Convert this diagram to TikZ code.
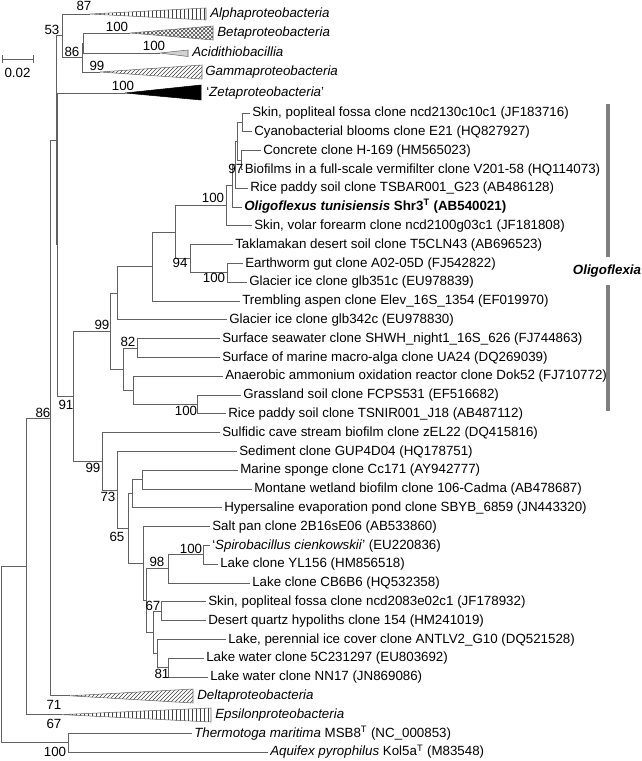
\documentclass[tikz,border=0pt]{standalone}
\usepackage{fontspec}
\setmainfont{Liberation Sans}
\usetikzlibrary{patterns}
\begin{document}
\begin{tikzpicture}[x=0.75pt,y=-0.75pt,
  br/.style={draw=black!62, line width=0.65pt},
  lf/.style={anchor=west, inner sep=1.5pt, font=\fontsize{10}{12}\selectfont, text height=7.3pt, text depth=1.7pt},
  bs/.style={inner sep=0pt, font=\fontsize{10}{12}\selectfont, text height=7.2pt, text depth=0pt},
  tri/.style={draw=black!60, line width=0.4pt, pattern color=black!75},
  obar/.style={draw=black!50, line width=3pt}]
\useasboundingbox (0,0) rectangle (642,761);

% ---------- internal nodes ----------
\coordinate (nR) at (1.5,654.6);
\coordinate (nD) at (26,566.3);
\coordinate (nTA) at (68,742.8);
\coordinate (nC) at (50,418.0);
\coordinate (nA) at (56,140.2);
\coordinate (n87) at (62,35.75);
\coordinate (n86) at (82,57.5);
\coordinate (nBA) at (83,43);
\coordinate (nB) at (57.5,244.6);
\coordinate (nU) at (73,396.3);
\coordinate (nE) at (110,331.2);
\coordinate (nF) at (117,293.2);
\coordinate (nG) at (152,266.6);
\coordinate (nH) at (175,232.3);
\coordinate (nP) at (226,205.8);
\coordinate (nO) at (232,185.9);
\coordinate (nN) at (235,164.7);
\coordinate (nM) at (237,141.2);
\coordinate (nK) at (242,122.4);
\coordinate (nL) at (241,160.0);
\coordinate (nI) at (190,258.7);
\coordinate (nJ) at (227,272.8);
\coordinate (nQ) at (123,369.1);
\coordinate (nR82) at (137,348.0);
\coordinate (nS) at (133,390.3);
\coordinate (nT) at (197,404.4);
\coordinate (nV) at (102,461.3);
\coordinate (nW) at (117,490.0);
\coordinate (nX) at (128,528.7);
\coordinate (nY) at (132,493.7);
\coordinate (nZ) at (142,479.6);
\coordinate (nAA) at (143,563.7);
\coordinate (nII) at (146,600.7);
\coordinate (nCC) at (168,568.9);
\coordinate (nDD) at (203,554.8);
\coordinate (nHH) at (153,632.4);
\coordinate (nEE) at (161,611.2);
\coordinate (nGG) at (157,653.5);
\coordinate (nFF) at (168,667.6);

% ---------- leaves ----------
\node[lf] (l1) at (250,113.0) {Skin, popliteal fossa clone ncd2130c10c1 (JF183716)};
\node[lf] (l2) at (252,131.8) {Cyanobacterial blooms clone E21 (HQ827927)};
\node[lf] (l3) at (261,150.6) {Concrete clone H-169 (HM565023)};
\node[lf] (l4) at (242.5,169.4) {Biofilms in a full-scale vermifilter clone V201-58 (HQ114073)};
\node[lf] (l5) at (248,188.2) {Rice paddy soil clone TSBAR001\_G23 (AB486128)};
\node[lf] (l6) at (242,207.0) {\textbf{\textit{Oligoflexus tunisiensis} Shr3\textsuperscript{T} (AB540021)}};
\node[lf] (l7) at (252,225.8) {Skin, volar forearm clone ncd2100g03c1 (JF181808)};
\node[lf] (l8) at (233,244.6) {Taklamakan desert soil clone T5CLN43 (AB696523)};
\node[lf] (l9) at (243,263.4) {Earthworm gut clone A02-05D (FJ542822)};
\node[lf] (l10) at (247,282.2) {Glacier ice clone glb351c (EU978839)};
\node[lf] (l11) at (240,301.0) {Trembling aspen clone Elev\_16S\_1354 (EF019970)};
\node[lf] (l12) at (227,319.8) {Glacier ice clone glb342c (EU978830)};
\node[lf] (l13) at (220,338.6) {Surface seawater clone SHWH\_night1\_16S\_626 (FJ744863)};
\node[lf] (l14) at (220,357.4) {Surface of marine macro-alga clone UA24 (DQ269039)};
\node[lf] (l15) at (223,376.2) {Anaerobic ammonium oxidation reactor clone Dok52 (FJ710772)};
\node[lf] (l16) at (241,395.0) {Grassland soil clone FCPS531 (EF516682)};
\node[lf] (l17) at (226,413.8) {Rice paddy soil clone TSNIR001\_J18 (AB487112)};
\node[lf] (l18) at (220,432.6) {Sulfidic cave stream biofilm clone zEL22 (DQ415816)};
\node[lf] (l19) at (237,451.4) {Sediment clone GUP4D04 (HQ178751)};
\node[lf] (l20) at (238,470.2) {Marine sponge clone Cc171 (AY942777)};
\node[lf] (l21) at (252,489.0) {Montane wetland biofilm clone 106-Cadma (AB478687)};
\node[lf] (l22) at (222,507.8) {Hypersaline evaporation pond clone SBYB\_6859 (JN443320)};
\node[lf] (l23) at (210,526.6) {Salt pan clone 2B16sE06 (AB533860)};
\node[lf] (l24) at (210,545.4) {‘\textit{Spirobacillus cienkowskii}’ (EU220836)};
\node[lf] (l25) at (218,564.2) {Lake clone YL156 (HM856518)};
\node[lf] (l26) at (250,583.0) {Lake clone CB6B6 (HQ532358)};
\node[lf] (l27) at (206,601.8) {Skin, popliteal fossa clone ncd2083e02c1 (JF178932)};
\node[lf] (l28) at (206,620.6) {Desert quartz hypoliths clone 154 (HM241019)};
\node[lf] (l29) at (226,639.4) {Lake, perennial ice cover clone ANTLV2\_G10 (DQ521528)};
\node[lf] (l30) at (204,658.2) {Lake water clone 5C231297 (EU803692)};
\node[lf] (l31) at (208,677.0) {Lake water clone NN17 (JN869086)};
\node[lf] (thermo) at (192,733.4) {\textit{Thermotoga maritima} MSB8\textsuperscript{T} (NC\_000853)};
\node[lf] (aqui) at (268,752.2) {\textit{Aquifex pyrophilus} Kol5a\textsuperscript{T} (M83548)};

% ---------- collapsed clades ----------
\coordinate (aA) at (90,14);   \coordinate (aT) at (206,8);   \coordinate (aB) at (206,20);
\coordinate (bA) at (130,33);  \coordinate (bT) at (213,26);  \coordinate (bB) at (213,40);
\coordinate (cA) at (160,53);  \coordinate (cT) at (188,50);  \coordinate (cB) at (188,56.5);
\coordinate (gA) at (100,72);  \coordinate (gT) at (202,65);  \coordinate (gB) at (202,79);
\coordinate (zA) at (125,93);  \coordinate (zT) at (201,85);  \coordinate (zB) at (201,100);
\coordinate (dA) at (70,695.8); \coordinate (dT) at (193,689); \coordinate (dB) at (193,703);
\coordinate (eA) at (62,714.6); \coordinate (eT) at (211,708); \coordinate (eB) at (211,722);

\filldraw[tri, pattern=vertical lines] (aA) -- (aT) -- (aB) -- cycle;
\filldraw[tri, pattern=crosshatch] (bA) -- (bT) -- (bB) -- cycle;
\filldraw[tri, fill=black!18] (cA) -- (cT) -- (cB) -- cycle;
\filldraw[tri, pattern=north east lines] (gA) -- (gT) -- (gB) -- cycle;
\filldraw[draw=black, fill=black, line width=0.4pt] (zA) -- (zT) -- (zB) -- cycle;
\filldraw[tri, pattern=north east lines] (dA) -- (dT) -- (dB) -- cycle;
\filldraw[tri, pattern=vertical lines] (eA) -- (eT) -- (eB) -- cycle;

\node[lf] (alab) at (208,14) {\textit{Alphaproteobacteria}};
\node[lf] (blab) at (215,33) {\textit{Betaproteobacteria}};
\node[lf] (clab) at (190,53) {\textit{Acidithiobacillia}};
\node[lf] (glab) at (203,72) {\textit{Gammaproteobacteria}};
\node[lf] (zlab) at (204,93) {‘\textit{Zetaproteobacteria}’};
\node[lf] (dlab) at (195,695.8) {\textit{Deltaproteobacteria}};
\node[lf] (elab) at (213,714.6) {\textit{Epsilonproteobacteria}};

% ---------- branches ----------
\draw[br] (nR) |- (nD);  \draw[br] (nR) |- (nTA);
\draw[br] (nTA) |- (thermo.west); \draw[br] (nTA) |- (aqui.west);
\draw[br] (nD) |- (nC);  \draw[br] (nD) |- (eA);
\draw[br] (nC) |- (nA);  \draw[br] (nC) |- (dA);
\draw[br] (nA) |- (n87); \draw[br] (nA) |- (nB);
\draw[br] (n87) |- (aA); \draw[br] (n87) |- (n86);
\draw[br] (n86) |- (nBA); \draw[br] (n86) |- (gA);
\draw[br] (nBA) |- (bA); \draw[br] (nBA) |- (cA);
\draw[br] (nB) |- (zA);  \draw[br] (nB) |- (nU);
\draw[br] (nU) |- (nE);  \draw[br] (nU) |- (nV);
\draw[br] (nE) |- (nF);  \draw[br] (nE) |- (nQ);
\draw[br] (nF) |- (nG);  \draw[br] (nF) |- (l12.west);
\draw[br] (nG) |- (nH);  \draw[br] (nG) |- (l11.west);
\draw[br] (nH) |- (nP);  \draw[br] (nH) |- (nI);
\draw[br] (nP) |- (nO);  \draw[br] (nP) |- (l7.west);
\draw[br] (nO) |- (nN);  \draw[br] (nO) |- (l6.west);
\draw[br] (nN) |- (nM);  \draw[br] (nN) |- (l5.west);
\draw[br] (nM) |- (nK);  \draw[br] (nM) |- (nL);
\draw[br] (nK) |- (l1.west); \draw[br] (nK) |- (l2.west);
\draw[br] (nL) |- (l3.west); \draw[br] (nL) |- (l4.west);
\draw[br] (nI) |- (l8.west); \draw[br] (nI) |- (nJ);
\draw[br] (nJ) |- (l9.west); \draw[br] (nJ) |- (l10.west);
\draw[br] (nQ) |- (nR82); \draw[br] (nQ) |- (nS);
\draw[br] (nR82) |- (l13.west); \draw[br] (nR82) |- (l14.west);
\draw[br] (nS) |- (l15.west); \draw[br] (nS) |- (nT);
\draw[br] (nT) |- (l16.west); \draw[br] (nT) |- (l17.west);
\draw[br] (nV) |- (l18.west); \draw[br] (nV) |- (nW);
\draw[br] (nW) |- (l19.west); \draw[br] (nW) |- (nX);
\draw[br] (nX) |- (nY);  \draw[br] (nX) |- (nAA);
\draw[br] (nY) |- (nZ);  \draw[br] (nY) |- (l22.west);
\draw[br] (nZ) |- (l20.west); \draw[br] (nZ) |- (l21.west);
\draw[br] (nAA) |- (l23.west); \draw[br] (nAA) |- (nII);
\draw[br] (nII) |- (nCC); \draw[br] (nII) |- (nHH);
\draw[br] (nCC) |- (nDD); \draw[br] (nCC) |- (l26.west);
\draw[br] (nDD) |- (l24.west); \draw[br] (nDD) |- (l25.west);
\draw[br] (nHH) |- (nEE); \draw[br] (nHH) |- (nGG);
\draw[br] (nEE) |- (l27.west); \draw[br] (nEE) |- (l28.west);
\draw[br] (nGG) |- (l29.west); \draw[br] (nGG) |- (nFF);
\draw[br] (nFF) |- (l30.west); \draw[br] (nFF) |- (l31.west);

% ---------- bootstrap values ----------
\node[bs] (b87) at (84,6) {87};
\node[bs] (b53) at (52,30) {53};
\node[bs] (b100a) at (117,27) {100};
\node[bs] (b86a) at (72,52) {86};
\node[bs] (b100b) at (154,46) {100};
\node[bs] (b99a) at (97,66) {99};
\node[bs] (b100c) at (123,86) {100};
\node[bs] (b100d) at (213,198) {100};
\node[bs, anchor=east] (b97) at (243.5,168.5) {97};
\node[bs] (b94) at (180,263) {94};
\node[bs] (b100e) at (214,278) {100};
\node[bs] (b99b) at (102,325) {99};
\node[bs] (b82) at (128,342) {82};
\node[bs] (b100f) at (186,411) {100};
\node[bs] (b91) at (66,405) {91};
\node[bs] (b86b) at (43,413) {86};
\node[bs] (b99c) at (93,468) {99};
\node[bs] (b73) at (108,497) {73};
\node[bs] (b65) at (117,537) {65};
\node[bs] (b98) at (157,562) {98};
\node[bs] (b100g) at (191,549) {100};
\node[bs] (b67a) at (153,606) {67};
\node[bs] (b81) at (162,674) {81};
\node[bs] (b71) at (54,705) {71};
\node[bs] (b67b) at (54,724) {67};
\node[bs] (b100h) at (55,752) {100};

% ---------- scale bar ----------
\coordinate (sbL) at (2,59); \coordinate (sbR) at (33,59);
\draw[br] (sbL) -- (sbR);
\draw[br] ([yshift=-3]sbL) -- ([yshift=3]sbL);
\draw[br] ([yshift=-3]sbR) -- ([yshift=3]sbR);
\node[bs] (sblab) at (17.5,73) {0.02};

% ---------- Oligoflexia bracket ----------
\coordinate (ob1) at (608,104); \coordinate (ob2) at (608,257);
\coordinate (ob3) at (608,285); \coordinate (ob4) at (608,411);
\draw[obar] (ob1) -- (ob2);
\draw[obar] (ob3) -- (ob4);
\node[bs] (olab) at (607,270) {\textbf{\textit{Oligoflexia}}};
\end{tikzpicture}
\end{document}
